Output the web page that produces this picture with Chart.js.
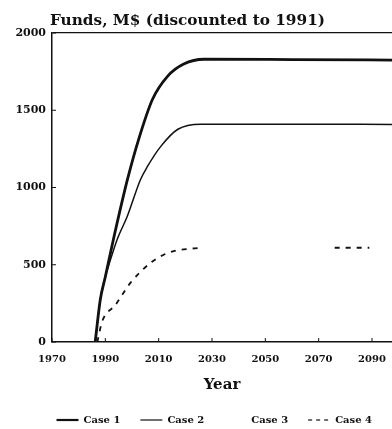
<!DOCTYPE html>
<html>
<head>
<meta charset="utf-8">
<script src="https://cdn.jsdelivr.net/npm/chart.js@4"></script>
<style>
    body { margin: 0; background: #fff; }
</style>
</head>
<body>
<canvas id="funds" width="392" height="429"></canvas>
<script>
const chartTitle = "Funds, M$ (discounted to 1991)";
const xTicks = [1970, 1990, 2010, 2030, 2050, 2070, 2090];
const yTicks = [0, 500, 1000, 1500, 2000];

const case1Years = [1986.2, 1988.1, 1990, 1993, 1998.3, 2002.5, 2007.7, 2013.4, 2019.4, 2027, 2060, 2098];
const case1Funds = [0, 273, 422, 662, 1052, 1312, 1571, 1721, 1799, 1830, 1828, 1825];

const case2Years = [1986.2, 1988.1, 1990, 1991, 1994.4, 1998.2, 2003.2, 2005.8, 2010.8, 2017.2, 2025.8, 2060, 2098];
const case2Funds = [0, 273, 422, 480, 662, 812, 1052, 1136, 1266, 1377, 1410, 1410, 1408];

const case3Years = [];
const case3Funds = [];

const case4Years = [1987, 1988.8, 1993.8, 1999.4, 2007, 2011.9, 2016, 2022.1, 2026, 2050, 2076, 2089];
const case4Funds = [0, 132, 240, 383, 513, 565, 590, 604, 610, null, 610, 610];

const ink = "#111";
const serif = "'DejaVu Serif', serif";

function points(years, funds) {
    return years.map((yr, i) => ({ x: yr, y: funds[i] }));
}

// inward tick marks and the title above the frame
const frame = {
    id: "frame",
    afterDraw(chart) {
        const ctx = chart.ctx;
        const area = chart.chartArea;
        const x = chart.scales.x;
        const y = chart.scales.y;
        ctx.save();
        ctx.strokeStyle = ink;
        ctx.lineWidth = 1;
        xTicks.forEach(v => {
            const px = x.getPixelForValue(v);
            ctx.beginPath();
            ctx.moveTo(px, area.bottom);
            ctx.lineTo(px, area.bottom - 4);
            ctx.stroke();
        });
        yTicks.forEach(v => {
            const py = y.getPixelForValue(v);
            ctx.beginPath();
            ctx.moveTo(area.left, py);
            ctx.lineTo(area.left + 4, py);
            ctx.stroke();
        });
        ctx.font = "bold 15.3px " + serif;
        ctx.fillStyle = ink;
        ctx.textBaseline = "alphabetic";
        ctx.fillText(chartTitle, area.left - 2, 25);
        ctx.restore();
    }
};

const datasets = [
    { label: "Case 1", data: points(case1Years, case1Funds), borderWidth: 2.8, borderDash: [], legendWidth: 2.2 },
    { label: "Case 2", data: points(case2Years, case2Funds), borderWidth: 1.5, borderDash: [], legendWidth: 1.2 },
    { label: "Case 3", data: points(case3Years, case3Funds), borderWidth: 1, borderDash: [], borderColor: "rgba(0,0,0,0)", legendWidth: 1 },
    { label: "Case 4", data: points(case4Years, case4Funds), borderWidth: 1.8, borderDash: [5, 6], legendDash: [4, 4], legendWidth: 1.2 }
].map(d => Object.assign({
    borderColor: ink,
    backgroundColor: "rgba(0,0,0,0)",
    pointRadius: 0,
    cubicInterpolationMode: "monotone",
    fill: false
}, d));

new Chart(document.getElementById("funds").getContext("2d"), {
    type: "line",
    data: { datasets: datasets },
    options: {
        responsive: false,
        animation: false,
        layout: { padding: { top: 33, left: 0, right: 0, bottom: 0 } },
        scales: {
            x: {
                type: "linear",
                min: 1970,
                max: 2097.5,
                afterBuildTicks: s => { s.ticks = xTicks.map(v => ({ value: v })); },
                afterFit: s => {
                    s.height = 53;
                    s.paddingLeft = 0;
                    s.paddingRight = 0;
                },
                grid: { display: false, drawTicks: false },
                border: { display: true, color: ink, width: 1.5 },
                ticks: {
                    padding: 11,
                    color: ink,
                    font: { family: serif, size: 10, weight: "bold" },
                    maxRotation: 0,
                    callback: v => String(v)
                },
                title: {
                    display: true,
                    text: "Year",
                    color: ink,
                    font: { family: serif, size: 15, weight: "bold" },
                    padding: { top: 0, bottom: 1 }
                }
            },
            y: {
                min: 0,
                max: 2000,
                afterBuildTicks: s => { s.ticks = yTicks.map(v => ({ value: v })); },
                afterFit: s => { s.width = 52; },
                grid: {
                    drawTicks: false,
                    lineWidth: 1.2,
                    color: c => c.tick && c.tick.value === 2000 ? ink : "rgba(0,0,0,0)"
                },
                border: { display: true, color: ink, width: 1.5 },
                ticks: {
                    padding: 6,
                    color: ink,
                    font: { family: serif, size: 11, weight: "bold" },
                    callback: v => String(v)
                }
            }
        },
        plugins: {
            title: { display: false },
            tooltip: { enabled: false },
            legend: {
                position: "bottom",
                align: "end",
                maxHeight: 34,
                labels: {
                    usePointStyle: true,
                    pointStyleWidth: 22,
                    padding: 20,
                    color: ink,
                    font: { family: serif, size: 10, weight: "bold" },
                    generateLabels: chart => chart.data.datasets.map((d, i) => ({
                        text: d.label,
                        datasetIndex: i,
                        hidden: false,
                        pointStyle: "line",
                        fillStyle: "rgba(0,0,0,0)",
                        strokeStyle: d.borderColor,
                        lineWidth: d.legendWidth,
                        lineDash: d.legendDash || [],
                        fontColor: ink
                    }))
                }
            }
        }
    },
    plugins: [frame]
});
</script>
</body>
</html>
